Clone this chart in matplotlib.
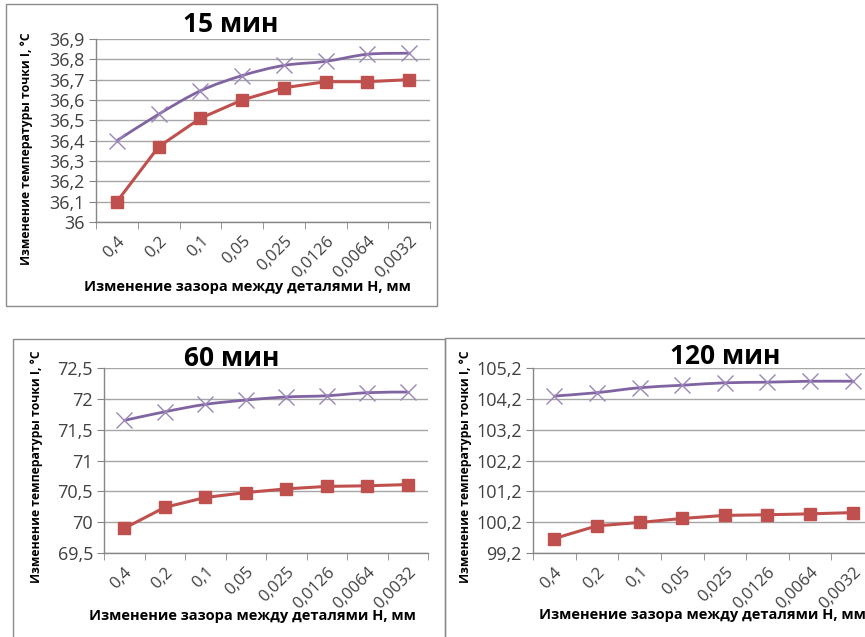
import matplotlib
matplotlib.use("Agg")
import matplotlib.pyplot as plt
from matplotlib.patches import Rectangle, PathPatch
from matplotlib.path import Path
from matplotlib.ticker import FixedLocator

# Gap between parts H, mm (category axis)
gaps = ["0,4", "0,2", "0,1", "0,05", "0,025", "0,0126", "0,0064", "0,0032"]

# Temperature of point I, °C
t15_upper = [36.40, 36.53, 36.645, 36.72, 36.77, 36.79, 36.825, 36.83]
t15_lower = [36.10, 36.37, 36.51, 36.60, 36.66, 36.69, 36.69, 36.70]

t60_upper = [71.65, 71.79, 71.91, 71.98, 72.03, 72.05, 72.10, 72.11]
t60_lower = [69.90, 70.24, 70.40, 70.48, 70.54, 70.58, 70.59, 70.61]

t120_upper = [104.29, 104.40, 104.56, 104.64, 104.72, 104.74, 104.77, 104.77]
t120_lower = [99.67, 100.08, 100.19, 100.32, 100.42, 100.44, 100.47, 100.51]

titles = ["15 мин", "60 мин", "120 мин"]
ylabel = "Изменение температуры точки I, °С"
xlabel = "Изменение зазора между деталями H, мм"

W, H = 865, 637
RED = "#C0504D"
PURPLE = "#8064A2"
GRID = "#a6a6a6"
AXIS = "#868686"
TICKTXT = "#404040"
FONT = ["Open Sans", "DejaVu Sans"]

plt.rcParams["font.family"] = FONT

fig = plt.figure(figsize=(W / 100, H / 100), dpi=100)
fig.patch.set_facecolor("white")


def box(l, t, r, b):
    return [l / W, 1 - b / H, (r - l) / W, (b - t) / H]


def frame(l, t, r, b):
    fig.add_artist(Rectangle((l / W, 1 - b / H), (r - l) / W, (b - t) / H,
                             transform=fig.transFigure, fill=False,
                             edgecolor="#8c8c8c", linewidth=1.0))


def ftext(x, y, s, **kw):
    fig.text(x / W, 1 - y / H, s, **kw)


def smooth_path(xs, ys, k=1 / 6):
    # Cubic Bezier curve through the points (Catmull-Rom style control points)
    n = len(xs)
    verts = [(xs[0], ys[0])]
    codes = [Path.MOVETO]
    for i in range(n - 1):
        x0, y0 = (xs[i - 1], ys[i - 1]) if i > 0 else (xs[i], ys[i])
        x1, y1 = xs[i], ys[i]
        x2, y2 = xs[i + 1], ys[i + 1]
        x3, y3 = (xs[i + 2], ys[i + 2]) if i + 2 < n else (x2, y2)
        c1 = (x1 + (x2 - x0) * k, y1 + (y2 - y0) * k)
        c2 = (x2 - (x3 - x1) * k, y2 - (y3 - y1) * k)
        verts += [c1, c2, (x2, y2)]
        codes += [Path.CURVE4] * 3
    return Path(verts, codes)


def panel(rect, upper, lower, ylim, yticks, ylabels):
    ax = fig.add_axes(box(*rect))
    x = list(range(len(gaps)))
    ax.add_patch(PathPatch(smooth_path(x, upper), fill=False,
                           edgecolor=PURPLE, lw=2.0, zorder=3))
    ax.plot(x, upper, ls="none", marker="x", ms=11, mew=1.0,
            mec="#9a86b8", zorder=3)
    ax.plot(x, lower, color=RED, lw=2.2, marker="s", ms=9, mec=RED,
            mfc=RED, zorder=4)
    ax.set_xlim(-0.5, len(gaps) - 0.5)
    ax.set_ylim(*ylim)
    ax.set_yticks(yticks)
    ax.set_yticklabels(ylabels)
    ax.set_xticks(x)
    ax.set_xticklabels(gaps, rotation=45, ha="right", rotation_mode="anchor")
    ax.xaxis.set_minor_locator(FixedLocator([i - 0.5 for i in range(len(gaps) + 1)]))
    ax.tick_params(axis="x", which="major", length=0, pad=8, labelsize=12,
                   labelcolor=TICKTXT)
    ax.tick_params(axis="x", which="minor", length=5, color=AXIS, direction="out")
    ax.tick_params(axis="y", length=5, color=AXIS, direction="out", pad=3,
                   labelsize=13, labelcolor=TICKTXT)
    ax.grid(axis="y", color=GRID, lw=1.0, zorder=0)
    ax.set_axisbelow(True)
    for s in ("top", "right"):
        ax.spines[s].set_visible(False)
    for s in ("left", "bottom"):
        ax.spines[s].set_color(AXIS)
        ax.spines[s].set_linewidth(1.0)
    ax.set_facecolor("none")
    return ax


# Panel frames
frame(6, 4, 437, 306)
frame(13, 339, 445, 645)
frame(445, 338, 875, 645)

panel((96, 39, 430, 222), t15_upper, t15_lower, (36.0, 36.9),
      [36.0 + 0.1 * i for i in range(10)],
      ["36", "36,1", "36,2", "36,3", "36,4", "36,5", "36,6", "36,7", "36,8", "36,9"])
panel((104, 368, 428, 553), t60_upper, t60_lower, (69.5, 72.5),
      [69.5, 70.0, 70.5, 71.0, 71.5, 72.0, 72.5],
      ["69,5", "70", "70,5", "71", "71,5", "72", "72,5"])
panel((533, 368, 874, 553), t120_upper, t120_lower, (99.2, 105.2),
      [99.2, 100.2, 101.2, 102.2, 103.2, 104.2, 105.2],
      ["99,2", "100,2", "101,2", "102,2", "103,2", "104,2", "105,2"])

# Titles
ftext(231, 25, titles[0], ha="center", va="center", fontsize=19,
      fontweight="bold", color="black")
ftext(232, 358, titles[1], ha="center", va="center", fontsize=19,
      fontweight="bold", color="black")
ftext(725, 357, titles[2], ha="center", va="center", fontsize=19,
      fontweight="bold", color="black")

# Axis titles
for (xx, yy) in [(247, 287), (252, 616), (702, 615)]:
    ftext(xx, yy, xlabel, ha="center", va="center", fontsize=10.5,
          fontweight="bold", color="black")
for (xx, yy) in [(27, 149), (37, 467), (465, 467)]:
    ftext(xx, yy, ylabel, ha="center", va="center", rotation=90,
          fontsize=8.8, fontweight="bold", color="black")

fig.savefig("out.png", dpi=100, facecolor="white")
